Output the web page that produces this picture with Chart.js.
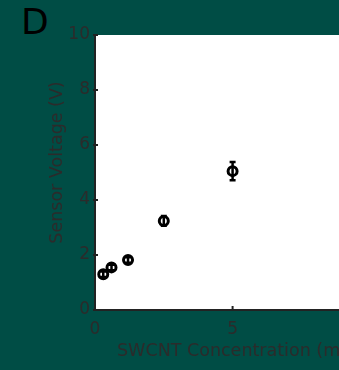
<!DOCTYPE html>
<html>
<head>
<meta charset="utf-8">
<script src="https://cdn.jsdelivr.net/npm/chart.js@4/dist/chart.umd.min.js"></script>
<style>
  html, body { margin: 0; padding: 0; background: #004d45; overflow: hidden; width: 339px; height: 370px; }
  #panel { position: absolute; left: 21px; top: 1px; font-family: "DejaVu Sans", sans-serif; font-size: 36px; color: #000; }
  canvas { position: absolute; left: 0; top: 0; }
</style>
</head>
<body>
<div id="panel">D</div>
<canvas id="myChart" width="390" height="370"></canvas>
<script>
//  data
const concentrations = [0.3, 0.6, 1.2, 2.5, 5];
const voltages       = [1.3, 1.55, 1.82, 3.24, 5.05];
const voltage_errors = [0.1, 0.1, 0.1, 0.18, 0.33];
const y_ticks = [0, 2, 4, 6, 8, 10];
const x_ticks = [0, 5, 10];
const x_title = 'SWCNT Concentration (mg/mL)';
const y_title = 'Sensor Voltage (V)';

const axis_colour = '#222';
const text_colour = '#2b2b2b';
const title_font  = '17.5px "DejaVu Sans"';

//  white plot area
const plotBackground = {
    id: 'plotBackground',
    beforeDraw(chart){
        const {ctx, chartArea: a} = chart;
        ctx.save();
        ctx.fillStyle = '#fff';
        ctx.fillRect(a.left, a.top, a.right - a.left, a.bottom - a.top);
        ctx.restore();
    }
};

//  error bars, ticks, axis titles
const errorBars = {
    id: 'errorBars',
    afterDatasetsDraw(chart){
        const ctx = chart.ctx;
        const a = chart.chartArea;
        const xs = chart.scales.x, ys = chart.scales.y;
        ctx.save();
        ctx.strokeStyle = '#000';
        ctx.lineWidth = 2.5;
        for(let i=0; i<concentrations.length; i++){
            const px = xs.getPixelForValue(concentrations[i]);
            const top = ys.getPixelForValue(voltages[i] + voltage_errors[i]);
            const bot = ys.getPixelForValue(voltages[i] - voltage_errors[i]);
            ctx.beginPath();
            ctx.moveTo(px, top); ctx.lineTo(px, bot);
            ctx.moveTo(px - 3, top); ctx.lineTo(px + 3, top);
            ctx.moveTo(px - 3, bot); ctx.lineTo(px + 3, bot);
            ctx.stroke();
        }
        //  short ticks
        ctx.strokeStyle = axis_colour;
        ctx.lineWidth = 2;
        y_ticks.forEach(v => {
            const py = ys.getPixelForValue(v);
            ctx.beginPath();
            ctx.moveTo(a.left - 2, py); ctx.lineTo(a.left + 3, py);
            ctx.stroke();
        });
        x_ticks.forEach(v => {
            const px = xs.getPixelForValue(v);
            ctx.beginPath();
            ctx.moveTo(px, a.bottom); ctx.lineTo(px, a.bottom - 4);
            ctx.stroke();
        });
        //  axis titles
        ctx.fillStyle = text_colour;
        ctx.font = title_font;
        ctx.textBaseline = 'middle';
        ctx.textAlign = 'left';
        ctx.fillText(x_title, a.left + 22, a.bottom + 41);
        ctx.translate(57, (a.top + a.bottom) / 2 - 10);
        ctx.rotate(-Math.PI / 2);
        ctx.textAlign = 'center';
        ctx.fillText(y_title, 0, 0);
        ctx.restore();
    }
};

const data = {
    datasets: [{
        data: concentrations.map((c, i) => ({x: c, y: voltages[i]})),
        backgroundColor: '#fff',
        borderColor: '#000',
        borderWidth: 3,
        pointRadius: 4.5,
        pointHoverRadius: 4.5,
        showLine: false
    }]
};

const config = {
    type: 'scatter',
    data: data,
    options: {
        responsive: false,
        animation: false,
        layout: { padding: { top: 35, right: 0, left: 0, bottom: 0 } },
        plugins: { legend: { display: false }, tooltip: { enabled: false } },
        scales: {
            x: {
                type: 'linear', min: 0, max: 10,
                afterBuildTicks: s => { s.ticks = x_ticks.map(v => ({value: v})); },
                grid: { drawOnChartArea: false, drawTicks: false },
                border: { color: axis_colour, width: 2 },
                ticks: { color: text_colour, padding: 9, font: { family: 'DejaVu Sans', size: 17 } },
                afterFit: s => { s.height = 60; }
            },
            y: {
                type: 'linear', min: 0, max: 10,
                afterBuildTicks: s => { s.ticks = y_ticks.map(v => ({value: v})); },
                grid: { drawOnChartArea: false, drawTicks: false },
                border: { color: axis_colour, width: 2 },
                ticks: { color: text_colour, padding: 5, font: { family: 'DejaVu Sans', size: 17 } },
                afterFit: s => { s.width = 95; }
            }
        }
    },
    plugins: [plotBackground, errorBars]
};

let myChart = new Chart(document.getElementById('myChart'), config);
</script>
</body>
</html>
